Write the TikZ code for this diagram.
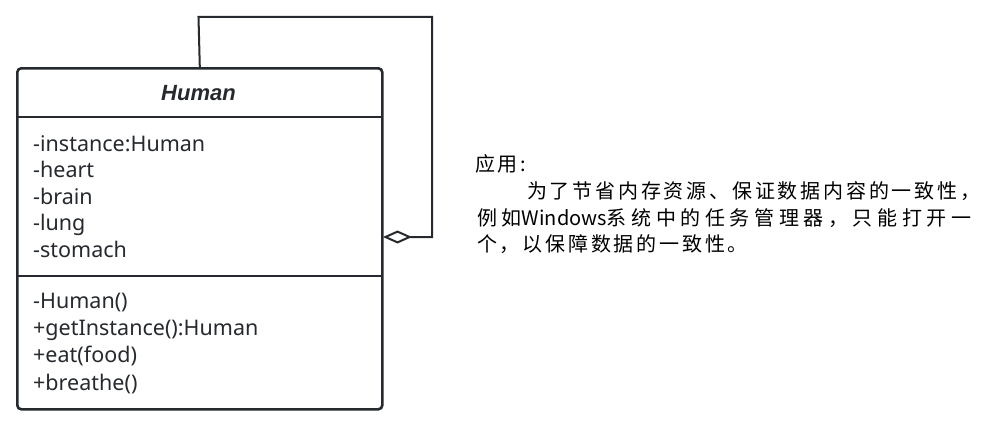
\documentclass[tikz,border=0pt]{standalone}
\usepackage{fontspec}
\setmainfont{Noto Sans}
\newfontfamily\cjk{Noto Sans CJK SC}
\newfontfamily\titlefont{Liberation Sans}
\usetikzlibrary{arrows.meta}
\definecolor{ink}{HTML}{262A2E}
\newcommand{\latinrun}[1]{{\addfontfeatures{LetterSpace=0}#1}}
\tikzset{
  x=1pt, y=-1pt,
  umlbox/.style={draw=ink, line width=2.6pt, rounded corners=4pt, inner sep=0pt, anchor=north west},
  divider/.style={draw=ink, line width=2.6pt},
  member/.style={anchor=base west, inner sep=0pt, text=ink, font=\fontsize{21.5}{21.5}\selectfont},
  title/.style={anchor=base, inner sep=0pt, text=ink, font=\titlefont\fontsize{22}{22}\selectfont\bfseries\itshape},
  link/.style={draw=ink, line width=2pt},
  note/.style={anchor=base west, inner sep=0pt, text=black, font=\cjk\fontsize{20}{20}\selectfont\addfontfeatures{LetterSpace=14}},
  wide note/.style={note, font=\cjk\fontsize{20}{20}\selectfont\addfontfeatures{LetterSpace=23}},
}
\begin{document}
\begin{tikzpicture}
\useasboundingbox[fill=white] (0,0) rectangle (1003,428);
% class box
\node[umlbox, minimum width=365pt, minimum height=341pt] (human) at (16,67) {};
\draw[divider] (16,117) -- (381,117);
\draw[divider] (16,276) -- (381,276);
\node[title] (name) at (198.5,100) {Human};
% attributes
\node[member] (a1) at (33,151) {-instance:Human};
\node[member] (a2) at (33,177.5) {-heart};
\node[member] (a3) at (33,204) {-brain};
\node[member] (a4) at (33,230.5) {-lung};
\node[member] (a5) at (33,257) {-stomach};
% operations
\node[member] (m1) at (33,308) {-Human()};
\node[member] (m2) at (33,335) {+getInstance():Human};
\node[member] (m3) at (33,362) {+eat(food)};
\node[member] (m4) at (33,390) {+breathe()};
% self aggregation
\coordinate (c1) at (198.5,17);
\coordinate (c2) at (432,17);
\coordinate (c3) at (432,237);
\coordinate (c4) at (383,237);
\draw[link, {Diamond[open, length=29pt, width=13pt, line width=2pt]}-] (c4) -- (c3) -- (c2) -- (c1) -- (human.north);
% note
\node[note] (n1) at (475,171) {应用:};
\node[note] (n2) at (527,198) {为了节省内存资源、保证数据内容的一致性，};
\node[wide note] (n3) at (477,225) {例如\latinrun{Windows}系统中的任务管理器，只能打开一};
\node[note] (n4) at (477,251) {个，以保障数据的一致性。};
\end{tikzpicture}
\end{document}
